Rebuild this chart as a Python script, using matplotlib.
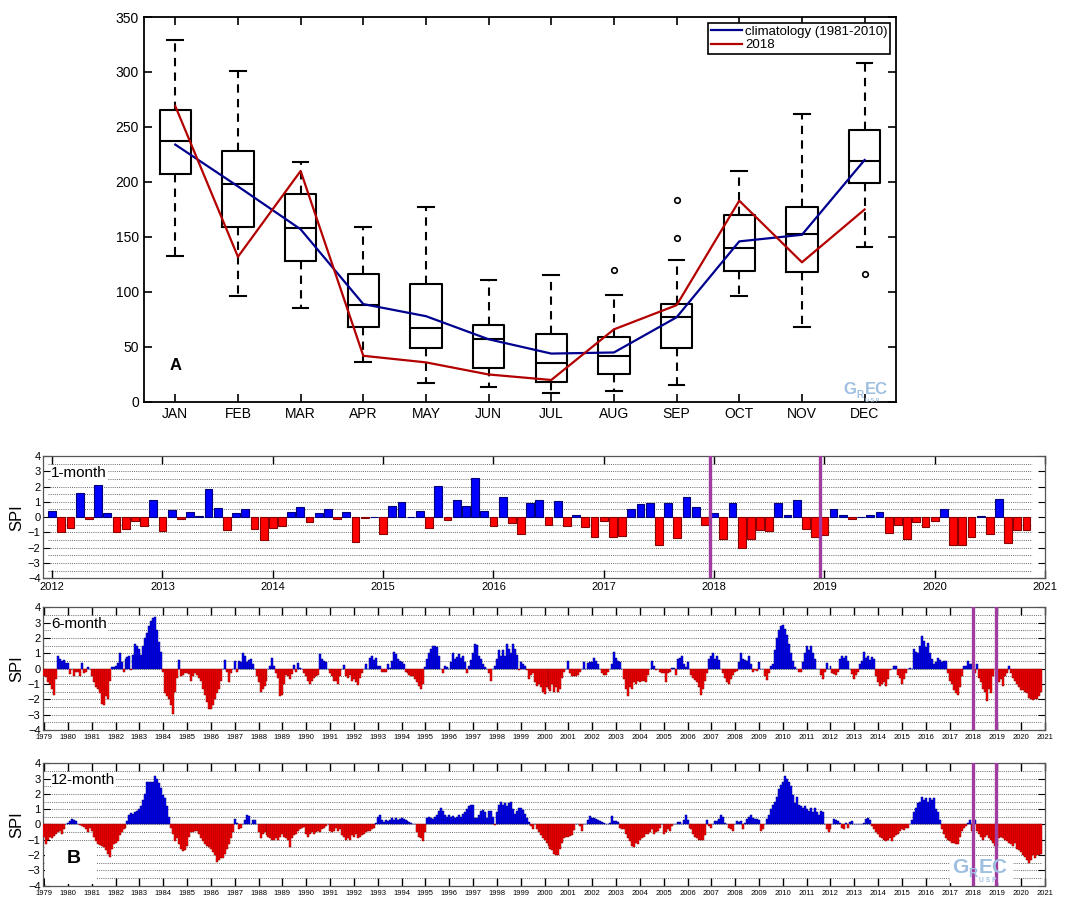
import numpy as np
import matplotlib.pyplot as plt
from matplotlib.patches import Rectangle

plt.rcParams['font.family'] = ['Liberation Sans', 'DejaVu Sans']

# ---- panel A: monthly rainfall box plots ----
months = ['JAN', 'FEB', 'MAR', 'APR', 'MAY', 'JUN', 'JUL', 'AUG', 'SEP', 'OCT', 'NOV', 'DEC']
box_whislo = [133, 96, 85, 36, 17, 14, 8, 10, 15, 96, 68, 141]
box_q1 = [207, 159, 128, 68, 49, 31, 18, 25, 49, 119, 118, 199]
box_med = [237, 198, 158, 88, 67, 57, 35, 42, 77, 140, 153, 219]
box_q3 = [265, 228, 189, 116, 107, 70, 62, 59, 89, 170, 177, 247]
box_whishi = [329, 301, 218, 159, 177, 111, 115, 97, 129, 210, 262, 308]
box_fliers = [[], [], [], [], [], [], [], [120], [184, 149], [], [], [116]]
clim_1981_2010 = [234, 196, 157, 89, 78, 57, 44, 45, 77, 146, 152, 220]
rain_2018 = [269, 132, 210, 42, 36, 25, 20, 66, 88, 183, 127, 175]

# ---- panel B: SPI series (monthly values) ----
spi1_start = 2012
spi1 = [
    0.4, -0.95, -0.7, 1.6, -0.1, 2.1, 0.3, -1.0, -0.75, -0.25, -0.55, 1.1,       # 2012
    -0.9, 0.45, -0.1, 0.35, 0.1, 1.85, 0.6, -0.85, 0.25, 0.5, -0.8, -1.5,        # 2013
    -0.7, -0.6, 0.35, 0.65, -0.3, 0.25, 0.5, -0.1, 0.35, -1.65, -0.05, 0.0,      # 2014
    -1.1, 0.7, 1.0, 0.0, 0.4, -0.7, 2.05, -0.2, 1.1, 0.7, 2.55, 0.4,             # 2015
    -0.6, 1.3, -0.4, -1.1, 0.95, 1.1, -0.5, 1.05, -0.6, 0.15, -0.65, -1.3,       # 2016
    -0.25, -1.3, -1.25, 0.55, 0.85, 0.95, -1.85, 0.9, -1.35, 1.35, 0.65, -0.5,   # 2017
    0.3, -1.4, 0.9, -2.05, -1.45, -0.85, -0.9, 0.9, 0.15, 1.1, -0.75, -1.3,      # 2018
    -1.2, 0.55, 0.15, -0.15, 0.0, 0.15, 0.35, -1.05, -0.5, -1.4, -0.3, -0.65,    # 2019
    -0.25, 0.55, -1.8, -1.8, -1.3, 0.05, -1.1, 1.2, -1.7, -0.85, -0.85,          # 2020
]

spi_long_start = 1979
spi6 = [
    -0.5, -0.55, -0.85, -1.0, -1.3, -1.75, -0.7, 0.85, 0.6, 0.5, 0.55, 0.35,     # 1979
    0.35, -0.35, 0.0, -0.45, -0.2, -0.2, -0.45, 0.35, -0.3, -0.2, 0.1, 0.0,      # 1980
    -0.5, -0.9, -1.2, -1.3, -1.6, -2.3, -2.35, -1.8, -2.0, -0.8, 0.1, 0.1,       # 1981
    0.15, 0.35, 1.0, 0.4, -0.25, 0.65, 0.75, 0.8, -0.1, 0.9, 1.6, 1.5,           # 1982
    1.3, 0.9, 1.5, 2.0, 2.3, 2.8, 3.1, 3.3, 3.35, 2.5, 1.75, 1.1,                # 1983
    -0.2, -1.6, -1.8, -2.0, -2.35, -2.95, -1.5, -0.6, 0.55, -0.45, -0.4, -0.3,   # 1984
    -0.3, -0.35, -0.8, -0.5, -0.3, -0.4, -0.6, -0.8, -1.3, -1.7, -2.2, -2.65,    # 1985
    -2.6, -2.4, -2.0, -1.6, -1.3, -0.8, 0.0, 0.55, -0.2, -0.9, -0.3, 0.0,        # 1986
    0.5, -0.25, 0.5, 0.4, 1.0, 0.8, 0.4, 0.55, 0.6, 0.3, 0.0, -0.5,              # 1987
    -0.9, -1.5, -1.35, -1.1, -0.8, 0.0, 0.2, 0.7, 0.2, -0.3, -0.6, -1.8,         # 1988
    -1.7, -1.0, -0.4, -0.5, -0.7, -0.35, 0.25, -0.2, 0.35, 0.05, 0.0, -0.3,      # 1989
    -0.5, -0.8, -1.0, -0.8, -0.6, -0.5, -0.4, 0.95, 0.6, 0.5, 0.45, 0.0,         # 1990
    -0.3, -0.5, -0.8, -0.8, -1.0, -0.5, 0.0, 0.25, -0.5, -0.6, -0.4, -0.8,       # 1991
    -0.7, -0.9, -1.05, -0.6, -0.3, 0.0, 0.3, 0.0, 0.7, 0.8, 0.55, 0.7,           # 1992
    0.2, 0.2, -0.2, -0.25, -0.25, 0.3, 0.05, 0.5, 1.1, 0.95, 0.6, 0.5,           # 1993
    0.45, 0.3, -0.2, -0.3, -0.4, -0.45, -0.5, -0.7, -0.9, -1.1, -1.35, -1.0,     # 1994
    0.1, 0.6, 1.0, 1.3, 1.45, 1.5, 1.4, 0.8, 0.0, -0.3, 0.2, 0.1,                # 1995
    0.0, 0.45, 1.05, 0.6, 0.75, 0.95, 0.7, 0.8, 0.4, -0.3, 0.2, 0.55,            # 1996
    1.0, 1.6, 1.55, 0.8, 0.6, 0.3, 0.1, 0.0, -0.3, -0.8, 0.0, 0.2,               # 1997
    0.6, 1.2, 0.8, 1.2, 0.8, 1.6, 1.3, 1.0, 1.6, 1.3, 0.9, -0.1,                 # 1998
    0.45, 0.3, 0.15, -0.1, -0.7, -0.4, -0.3, -0.9, -1.1, -1.0, -1.2, -1.5,       # 1999
    -1.65, -1.2, -1.3, -1.45, -1.0, -1.5, -1.2, -1.5, -1.3, -0.6, -0.2, 0.0,     # 2000
    0.5, -0.3, -0.5, -0.45, -0.5, -0.4, -0.2, 0.0, 0.45, 0.0, 0.35, 0.45,        # 2001
    0.45, 0.7, 0.5, 0.3, 0.0, -0.3, -0.4, -0.4, -0.2, 0.0, 0.3, 1.1,             # 2002
    0.7, 0.5, 0.45, 0.0, -0.7, -1.3, -1.8, -1.2, -1.3, -0.9, -1.0, -0.8,         # 2003
    -0.9, -0.8, -0.8, -0.9, -0.4, 0.0, 0.5, 0.2, -0.1, 0.0, -0.2, -0.3,          # 2004
    -0.3, -0.9, -0.3, -0.2, 0.05, 0.05, -0.4, 0.6, 0.7, 0.8, 0.3, 0.1,           # 2005
    0.4, 0.0, -0.4, -0.6, -0.75, -0.9, -1.2, -1.7, -1.3, -0.8, -0.3, 0.6,        # 2006
    0.85, 1.0, 0.65, 0.8, 0.55, 0.0, -0.3, -0.6, -0.9, -1.0, -0.7, -0.4,         # 2007
    -0.2, -0.15, 0.4, 1.0, 0.6, 0.55, 0.5, 0.8, 0.3, -0.2, -0.1, -0.15,          # 2008
    0.4, 0.0, 0.0, -0.5, -0.75, -0.3, 0.2, 0.3, 1.2, 2.0, 2.5, 2.8,              # 2009
    2.85, 2.6, 2.2, 1.6, 1.0, 0.5, 0.1, 0.0, -0.25, -0.25, 0.4, 1.0,             # 2010
    1.5, 1.2, 1.45, 1.0, 0.6, 0.0, 0.0, -0.4, -0.7, -0.2, 0.35, 0.0,             # 2011
    0.15, -0.3, -0.35, -0.4, -0.2, 0.6, 0.8, 0.7, 0.8, 0.5, 0.0, -0.35,          # 2012
    -0.7, -0.4, -0.2, 0.3, 0.5, 1.1, 0.7, 0.8, 0.55, 0.75, 0.6, -0.5,            # 2013
    -0.9, -1.1, -1.0, -0.9, -1.1, -0.7, -0.1, 0.0, 0.15, 0.15, -0.4, -0.6,       # 2014
    -1.0, -0.7, -0.3, 0.0, 0.05, 0.0, 1.3, 1.1, 1.0, 1.5, 2.1, 1.8,              # 2015
    1.4, 1.7, 1.0, 0.6, 0.3, 0.4, 0.7, 0.55, 0.45, 0.5, 0.5, -0.3,               # 2016
    -0.8, -1.0, -1.4, -1.6, -1.7, -1.2, -0.5, 0.15, 0.15, 0.5, 0.3, 0.3,         # 2017
    0.3, -0.3, 0.3, -0.6, -0.9, -1.3, -1.5, -2.1, -1.3, -1.6, -0.5, 0.0,         # 2018
    -0.6, -0.9, -0.7, -1.1, -0.5, -0.3, 0.15, -0.3, -0.6, -0.8, -1.0, -1.2,      # 2019
    -1.4, -1.4, -1.5, -1.6, -1.9, -2.0, -2.05, -2.0, -2.0, -1.8, -1.5,           # 2020
]

spi12 = [
    -0.8, -1.25, -1.0, -0.85, -0.9, -0.75, -0.6, -0.5, -0.45, -0.6, -0.3, 0.0,   # 1979
    0.1, 0.2, 0.35, 0.3, 0.2, 0.05, -0.05, -0.1, -0.15, -0.3, -0.5, -0.2,        # 1980
    -0.4, -0.8, -1.1, -1.3, -1.35, -1.4, -1.5, -1.7, -1.9, -2.1, -1.6, -1.3,     # 1981
    -1.2, -1.1, -0.7, -0.5, -0.3, -0.2, 0.25, 0.6, 0.75, 0.7, 0.8, 0.9,          # 1982
    1.0, 1.2, 1.6, 2.0, 2.8, 2.8, 2.8, 2.8, 3.2, 3.0, 2.7, 2.4,                  # 1983
    1.9, 1.7, 1.2, 0.5, -0.2, -0.6, -1.1, -0.9, -1.3, -1.6, -1.75, -1.7,         # 1984
    -1.4, -0.8, -0.5, -0.5, -0.4, -0.4, -0.6, -0.9, -1.1, -1.3, -1.4, -1.5,      # 1985
    -1.6, -1.8, -2.0, -2.45, -2.3, -2.2, -2.2, -1.9, -1.6, -1.3, -0.9, -0.5,     # 1986
    0.35, 0.1, -0.3, -0.2, 0.05, 0.3, 0.65, 0.55, 0.05, 0.3, 0.3, 0.0,           # 1987
    -0.5, -0.9, -0.6, -0.5, -0.7, -0.8, -0.9, -1.0, -1.0, -0.9, -1.0, -0.8,      # 1988
    -0.6, -0.8, -0.9, -1.0, -1.5, -0.9, -0.7, -0.6, -0.4, -0.3, -0.2, -0.15,     # 1989
    -0.6, -0.8, -0.6, -0.5, -0.6, -0.5, -0.4, -0.5, -0.3, -0.2, -0.1, 0.0,       # 1990
    -0.4, -0.5, -0.4, -0.2, -0.4, -0.3, -0.7, -0.8, -1.0, -0.9, -1.0, -0.7,      # 1991
    -0.8, -0.6, -0.9, -0.8, -0.7, -0.6, -0.5, -0.4, -0.45, -0.3, -0.2, 0.1,      # 1992
    0.5, 0.6, 0.3, 0.15, 0.3, 0.25, 0.3, 0.4, 0.3, 0.45, 0.3, 0.35,              # 1993
    0.4, 0.35, 0.3, 0.2, 0.15, 0.1, 0.05, 0.0, -0.5, -0.8, -0.9, -1.1,           # 1994
    -0.5, 0.4, 0.5, 0.4, 0.35, 0.5, 0.6, 0.9, 1.05, 0.9, 0.6, 0.5,               # 1995
    0.6, 0.5, 0.55, 0.4, 0.5, 0.6, 0.5, 0.7, 0.8, 1.0, 1.2, 1.3,                 # 1996
    1.25, 0.4, 0.4, 0.6, 0.9, 0.95, 0.8, 0.4, 0.9, 0.9, 0.5, -0.05,              # 1997
    0.8, 1.3, 1.45, 1.3, 1.4, 1.2, 1.4, 1.45, 1.0, 0.7, 0.9, 1.1,                # 1998
    1.1, 0.95, 0.7, 0.4, 0.15, -0.1, -0.3, 0.05, -0.3, -0.5, -0.7, -0.9,         # 1999
    -1.0, -1.2, -1.4, -1.6, -1.7, -1.9, -2.0, -2.0, -1.6, -1.2, -0.9, -0.8,      # 2000
    -0.8, -0.75, -0.7, -0.35, 0.05, 0.0, -0.1, -0.4, 0.0, 0.05, 0.3, 0.55,       # 2001
    0.45, 0.4, 0.35, 0.3, 0.2, 0.15, 0.1, 0.05, 0.05, 0.1, 0.55, 0.25,           # 2002
    0.2, 0.15, -0.2, -0.3, -0.3, -0.6, -0.9, -1.1, -1.4, -1.5, -1.2, -1.3,       # 2003
    -1.0, -0.9, -0.8, -0.6, -0.6, -0.5, -0.3, -0.6, -0.5, -0.4, -0.2, 0.0,       # 2004
    -0.6, -0.5, -0.3, -0.4, -0.1, 0.0, 0.05, 0.15, 0.15, 0.05, 0.3, 0.6,         # 2005
    0.3, -0.2, -0.3, -0.6, -0.8, -0.9, -1.0, -1.0, -1.0, -0.7, 0.3, -0.1,        # 2006
    -0.2, 0.0, 0.2, 0.2, 0.35, 0.6, 0.5, 0.1, 0.0, -0.2, -0.3, -0.4,             # 2007
    0.0, 0.2, 0.15, 0.25, -0.3, 0.1, 0.35, 0.5, 0.6, 0.4, 0.35, 0.35,            # 2008
    0.3, -0.4, -0.3, 0.0, 0.35, 0.6, 1.0, 1.3, 1.5, 1.8, 2.3, 2.6,               # 2009
    2.8, 3.15, 3.0, 2.8, 2.5, 1.9, 1.4, 1.8, 1.3, 1.2, 1.1, 1.2,                 # 2010
    1.0, 0.9, 1.1, 0.8, 1.1, 0.8, 0.6, 0.9, 0.8, 0.0, -0.3, -0.5,                # 2011
    -0.3, 0.0, 0.35, 0.3, 0.2, 0.1, -0.2, -0.3, 0.1, -0.2, 0.15, 0.25,           # 2012
    0.0, 0.0, 0.0, 0.0, 0.05, 0.1, 0.35, 0.4, 0.3, -0.1, -0.3, -0.5,             # 2013
    -0.6, -0.8, -0.9, -1.0, -1.1, -1.0, -0.9, -1.1, -0.8, -0.7, -0.6, -0.4,      # 2014
    -0.3, -0.35, -0.2, -0.2, 0.0, 0.3, 0.8, 1.1, 1.4, 1.5, 1.8, 1.6,             # 2015
    1.7, 1.5, 1.7, 1.6, 1.7, 1.0, 0.8, 0.3, -0.3, -0.6, -0.9, -1.0,              # 2016
    -1.1, -1.2, -1.2, -1.3, -1.25, -0.8, -0.4, -0.2, -0.1, 0.1, 0.3, -0.4,       # 2017
    0.1, 0.3, -0.4, -0.6, -0.8, -1.0, -0.8, -0.7, -0.9, -1.0, -1.2, -1.4,        # 2018
    -1.4, -0.9, -0.8, -0.9, -1.0, -1.1, -1.2, -1.3, -1.4, -1.2, -1.6, -1.7,      # 2019
    -1.8, -2.0, -2.1, -2.3, -2.5, -2.3, -2.0, -2.2, -2.0, -2.0, -1.9,            # 2020
]

year_2018_marks = [2017.96, 2018.96]
grec_blue = '#9fbfe0'


def grec_logo(ax, x, y, size):
    # little GReC/USP mark drawn as text, pieces offset in points
    kw = dict(xycoords='axes fraction', textcoords='offset points', fontweight='bold',
              color=grec_blue, ha='left', va='bottom', zorder=6)
    ax.annotate('G', (x, y), xytext=(0, 0), fontsize=size, **kw)
    ax.annotate('R', (x, y), xytext=(size * 0.8, -size * 0.15), fontsize=size * 0.6, **kw)
    ax.annotate('EC', (x, y), xytext=(size * 0.8 + size * 0.48, 0), fontsize=size, **kw)
    ax.annotate('U S P', (x, y), xytext=(size * 1.3, -size * 0.32), fontsize=size * 0.32, **kw)


def spi_panel(ax, start, values, xlim, tick_years, xlab_size, name, width, edge_lw):
    vals = np.array(values)
    x = start + np.arange(len(vals)) / 12
    cols = np.where(vals >= 0, '#0000ff', '#ff0000')
    edges = np.where(vals >= 0, '#00007a', '#8a0000')
    ax.bar(x, vals, width=width, color=cols, edgecolor=edges, linewidth=edge_lw, zorder=3)
    gx0, gx1 = x[0] - 0.04, x[-1] + 0.05
    for lev in np.arange(-3.5, 3.6, 0.5):
        ax.plot([gx0, gx1], [lev, lev], color='#6a6a6a', lw=0.7, ls=(0, (1, 1.2)), zorder=1)
    for xm in year_2018_marks:
        ax.axvline(xm, color='#a03ca0', lw=2.4, zorder=5)
    ax.set_xlim(*xlim)
    ax.set_ylim(-4, 4)
    ax.set_yticks(range(-4, 5))
    ax.set_xticks(tick_years)
    ax.set_xticklabels([str(y) for y in tick_years], fontsize=xlab_size)
    ax.tick_params(axis='y', labelsize=8, direction='in', right=True, length=5, pad=2)
    ax.tick_params(axis='x', direction='in', top=True, length=6, pad=3, width=1.0)
    ax.set_ylabel('SPI', fontsize=12, labelpad=2)
    ax.yaxis.set_label_coords(-0.019, 0.5)
    for sp in ax.spines.values():
        sp.set_color('#555555')
        sp.set_linewidth(0.9)
    ax.text(0.008, 0.86, name, transform=ax.transAxes, fontsize=11, va='center',
            zorder=6, bbox=dict(facecolor='white', edgecolor='none', pad=0.5))


fig = plt.figure(figsize=(10.84, 9.14), dpi=100)

# ---------------- panel A ----------------
axA = fig.add_axes([0.1328, 0.5602, 0.6937, 0.4212])
stats = []
for i in range(12):
    stats.append(dict(med=box_med[i], q1=box_q1[i], q3=box_q3[i],
                      whislo=box_whislo[i], whishi=box_whishi[i], fliers=box_fliers[i]))
pos = np.arange(1, 13)
axA.bxp(stats, positions=pos, widths=0.5, capwidths=0.25,
        boxprops=dict(color='k', lw=1.5),
        whiskerprops=dict(color='k', lw=1.5, ls=(0, (4, 3))),
        capprops=dict(color='k', lw=1.5),
        medianprops=dict(color='k', lw=1.5),
        flierprops=dict(marker='o', mfc='none', mec='k', ms=4, mew=1.2))
axA.plot(pos, clim_1981_2010, color='#00008f', lw=1.6, label='climatology (1981-2010)', zorder=4)
axA.plot(pos, rain_2018, color='#b30000', lw=1.6, label='2018', zorder=4)
axA.set_xlim(0.5, 12.5)
axA.set_ylim(0, 350)
axA.set_yticks(range(0, 351, 50))
axA.set_xticks(pos)
axA.set_xticklabels(months)
axA.tick_params(direction='in', top=True, right=True, length=6, width=1.2, labelsize=10)
for sp in axA.spines.values():
    sp.set_linewidth(1.3)
leg = axA.legend(loc='upper right', fontsize=9.5, fancybox=False, edgecolor='k', framealpha=1,
                 borderpad=0.2, handlelength=2.4, handletextpad=0.2, labelspacing=0.1,
                 borderaxespad=0.45)
leg.get_frame().set_linewidth(1.2)
axA.text(1, 33, 'A', fontsize=12, fontweight='bold', ha='center', va='center')
grec_logo(axA, 0.93, 0.012, 12)

# ---------------- panel B ----------------
ax1 = fig.add_axes([0.040, 0.3673, 0.924, 0.1338])
spi_panel(ax1, spi1_start, spi1, (2011.92, 2021.0), list(range(2012, 2022)), 8,
          '1-month', 0.85 / 12, 0.8)

long_years = list(range(1979, 2022))
ax6 = fig.add_axes([0.040, 0.2013, 0.924, 0.1343])
spi_panel(ax6, spi_long_start, spi6, (1978.97, 2021.0), long_years, 5.5,
          '6-month', 1 / 12, 0.35)

ax12 = fig.add_axes([0.040, 0.0310, 0.924, 0.1339])
spi_panel(ax12, spi_long_start, spi12, (1978.97, 2021.0), long_years, 5.5,
          '12-month', 1 / 12, 0.35)
ax12.add_patch(Rectangle((0.002, 0.01), 0.052, 0.33, transform=ax12.transAxes,
                         facecolor='white', edgecolor='none', zorder=2))
ax12.text(0.03, 0.22, 'B', transform=ax12.transAxes, fontsize=14, fontweight='bold',
          ha='center', va='center', zorder=6)
ax12.add_patch(Rectangle((0.905, 0.02), 0.063, 0.2, transform=ax12.transAxes,
                         facecolor='white', edgecolor='none', zorder=2))
grec_logo(ax12, 0.907, 0.07, 15)

fig.savefig('out.png', dpi=100)
